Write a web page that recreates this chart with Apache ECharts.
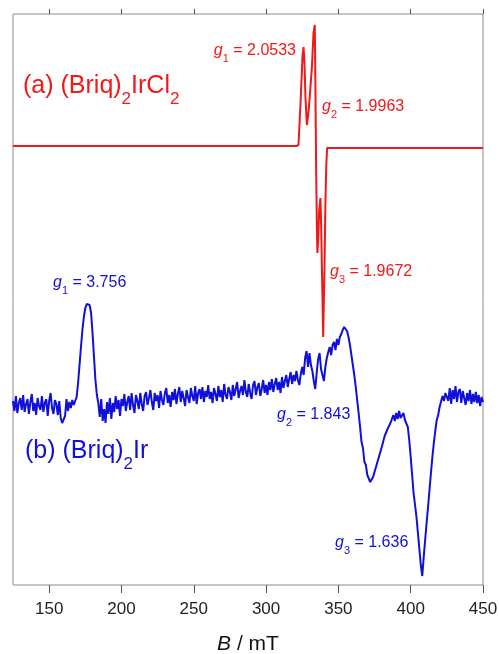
<!DOCTYPE html>
<html><head><meta charset="utf-8">
<script src="https://cdn.jsdelivr.net/npm/echarts@6/dist/echarts.min.js"></script>
<style>html,body{margin:0;padding:0;background:#fff}#c{width:499px;height:654px}</style>
</head><body><div id="c"></div>
<script>
// x-axis ticks (mT)
const xTicks = [150, 200, 250, 300, 350, 400, 450];

// (a) (Briq)2IrCl2 : field (mT) and signal (a.u., relative to its baseline)
const redField = [125, 200, 300, 321,
  322.4, 323.9, 325.2, 325.9, 326.5, 327.2, 328.2, 329.3, 330.5, 331.7, 332.8, 333.7,
  334.2, 334.6, 335.1, 335.5, 336.0, 336.7, 337.6, 338.1, 338.6, 339.5, 340.4, 341.0,
  341.6, 342.2, 345, 400, 450];
const redSignal = [0, 0, 0, 0,
  1, 45, 90, 99, 85, 50, 21, 33, 55, 79, 113, 121,
  46, -21, -80, -107, -95, -65, -52, -80, -121, -191, -121, -60,
  -21, -2, -2, -2, -2];

// (b) (Briq)2Ir : field sweep 125..450 mT in 1 mT steps, signal (a.u.)
const blueFieldStart = 125;
const blueFieldStep = 1;
const blueSignal = [
  4, -6, 9, -8, 2, 7, -5, 10, -7, 1,
  6, -9, 3, 11, -6, 2, -10, 7, -1, -5,
  9, -7, 2, 6, -11, 4, 12, -3, -9, 5,
  1, -10, 4, -13, -18, -20, -11, 6, -6, 3,
  -3, 5, 0, 0, 8, 22, 40, 58, 75, 88,
  97, 101, 102, 100, 92, 72, 48, 25, 10, 2,
  -12, 6, -16, -4, -18, 3, -9, 7, -14, 2,
  -7, 9, -4, 5, -11, 6, -1, 11, -6, 3,
  9, -5, 12, 0, -8, 10, 4, -4, 12, 1,
  -6, 9, 13, 0, 7, 15, 3, -5, 12, 4,
  10, -3, 14, 5, 0, 12, 17, 2, 10, -2,
  13, 5, 16, 1, 11, 18, 3, 14, 7, -1,
  15, 8, 2, 17, 9, 4, 19, 1, 12, 16,
  6, 18, 3, 14, 8, 20, 6, 13, 2, 17,
  11, 4, 19, 8, 15, 3, 21, 10, 6, 18,
  13, 5, 20, 9, 16, 23, 7, 14, 19, 10,
  25, 13, 8, 21, 12, 6, 20, 24, 10, 18,
  22, 9, 16, 25, 12, 20, 10, 23, 15, 26,
  13, 21, 27, 15, 23, 12, 28, 17, 24, 30,
  18, 26, 33, 21, 30, 24, 34, 25, 20, 31,
  38, 30, 47, 54, 38, 52, 40, 34, 24, 16,
  32, 46, 52, 36, 30, 24, 38, 47, 53, 58,
  50, 60, 63, 55, 66, 60, 68, 71, 75, 78,
  80, 74, 68, 60, 50, 40, 30, 18, 5, -8,
  -22, -37, -43, -57, -60, -70, -70, -77, -78, -72,
  -72, -62, -63, -52, -53, -42, -40, -31, -33, -24,
  -24, -18, -19, -10, -16, -8, -14, -6, -13, -12,
  -8, -15, -14, -22, -35, -52, -70, -88, -100, -112,
  -128, -144, -160, -171, -152, -135, -118, -102, -85, -68,
  -52, -38, -26, -15, -10, -2, 0, 9, 4, 12,
  14, 4, 17, 1, 15, 6, 19, 3, 13, 16,
  2, 14, 7, 0, 12, 4, 15, 1, 11, 3,
  13, 2, 10, -1, 8, 3
];

// g-value annotations
const redGLabels = [['1', '2.0533'], ['2', '1.9963'], ['3', '1.9672']];
const blueGLabels = [['1', '3.756'], ['2', '1.843'], ['3', '1.636']];

// ---- layout / style ----
const RED = '#f01818';
const BLUE = '#1010d8';
const FONT = '"Liberation Sans", Arial, sans-serif';
const redOffset = 0;
const blueOffset = -259;

const redData = redField.map((f, i) => [f, redSignal[i] + redOffset]);
const blueData = blueSignal.map((v, i) => [blueFieldStart + i * blueFieldStep, v + blueOffset]);

function gRich(color) {
  return {
    i: { fontFamily: FONT, fontSize: 16, fontStyle: 'italic', fill: color, lineHeight: 27, verticalAlign: 'middle' },
    s: { fontFamily: FONT, fontSize: 11, fill: color, lineHeight: 11, verticalAlign: 'bottom' },
    n: { fontFamily: FONT, fontSize: 16, fill: color, lineHeight: 27, verticalAlign: 'middle' }
  };
}
function gText(lbl, color, x, y, align) {
  return {
    type: 'text', x: x, y: y, z: 100,
    style: {
      text: '{i|g}{s|' + lbl[0] + '}{n| = ' + lbl[1] + '}',
      rich: gRich(color), align: align, verticalAlign: 'middle', fill: color
    }
  };
}
function nameRich(color) {
  return {
    m: { fontFamily: FONT, fontSize: 25, fill: color, lineHeight: 44, verticalAlign: 'middle' },
    s: { fontFamily: FONT, fontSize: 17, fill: color, lineHeight: 17, verticalAlign: 'bottom' }
  };
}

const chart = echarts.init(document.getElementById('c'), null, { renderer: 'canvas' });
chart.setOption({
  animation: false,
  backgroundColor: '#fff',
  grid: { left: 13, right: 16, top: 14, bottom: 69, show: true, borderColor: '#8c8c8c', borderWidth: 1,
    backgroundColor: 'transparent', containLabel: false, outerBoundsMode: 'none' },
  xAxis: [
    {
      type: 'value', min: 125, max: 450, position: 'bottom',
      axisLine: { show: false, onZero: false },
      axisTick: { show: true, customValues: xTicks, length: 8, inside: false, lineStyle: { color: '#555', width: 1 } },
      axisLabel: { show: true, customValues: xTicks, margin: 16, fontSize: 17, color: '#222', fontFamily: FONT },
      splitLine: { show: false },
      name: '{i|B}{n| / mT}', nameLocation: 'middle', nameGap: 49,
      nameTextStyle: {
        fontSize: 21, fontFamily: FONT, color: '#111',
        rich: {
          i: { fontFamily: FONT, fontSize: 21, fontStyle: 'italic', color: '#111' },
          n: { fontFamily: FONT, fontSize: 21, color: '#111' }
        }
      }
    },
    {
      type: 'value', min: 125, max: 450, position: 'top',
      axisLine: { show: false, onZero: false },
      axisTick: { show: true, customValues: xTicks, length: 5, inside: false, lineStyle: { color: '#555', width: 1 } },
      axisLabel: { show: false },
      splitLine: { show: false }
    }
  ],
  yAxis: { type: 'value', min: -439, max: 132, show: false },
  series: [
    { type: 'line', name: '(a)', data: redData, showSymbol: false, symbol: 'none',
      lineStyle: { color: RED, width: 2 }, itemStyle: { color: RED }, z: 3 },
    { type: 'line', name: '(b)', data: blueData, showSymbol: false, symbol: 'none',
      lineStyle: { color: BLUE, width: 2 }, itemStyle: { color: BLUE }, z: 2 }
  ],
  graphic: [
    { type: 'text', x: 23, y: 86, z: 100,
      style: { text: '{m|(a) (Briq)}{s|2}{m|IrCl}{s|2}', rich: nameRich(RED), align: 'left', verticalAlign: 'middle', fill: RED } },
    { type: 'text', x: 25, y: 451, z: 100,
      style: { text: '{m|(b) (Briq)}{s|2}{m|Ir}', rich: nameRich(BLUE), align: 'left', verticalAlign: 'middle', fill: BLUE } },
    gText(redGLabels[0], RED, 296, 51, 'right'),
    gText(redGLabels[1], RED, 322, 107, 'left'),
    gText(redGLabels[2], RED, 330, 272, 'left'),
    gText(blueGLabels[0], BLUE, 53, 283, 'left'),
    gText(blueGLabels[1], BLUE, 277, 415, 'left'),
    gText(blueGLabels[2], BLUE, 335, 543, 'left')
  ]
});
</script>
</body></html>
